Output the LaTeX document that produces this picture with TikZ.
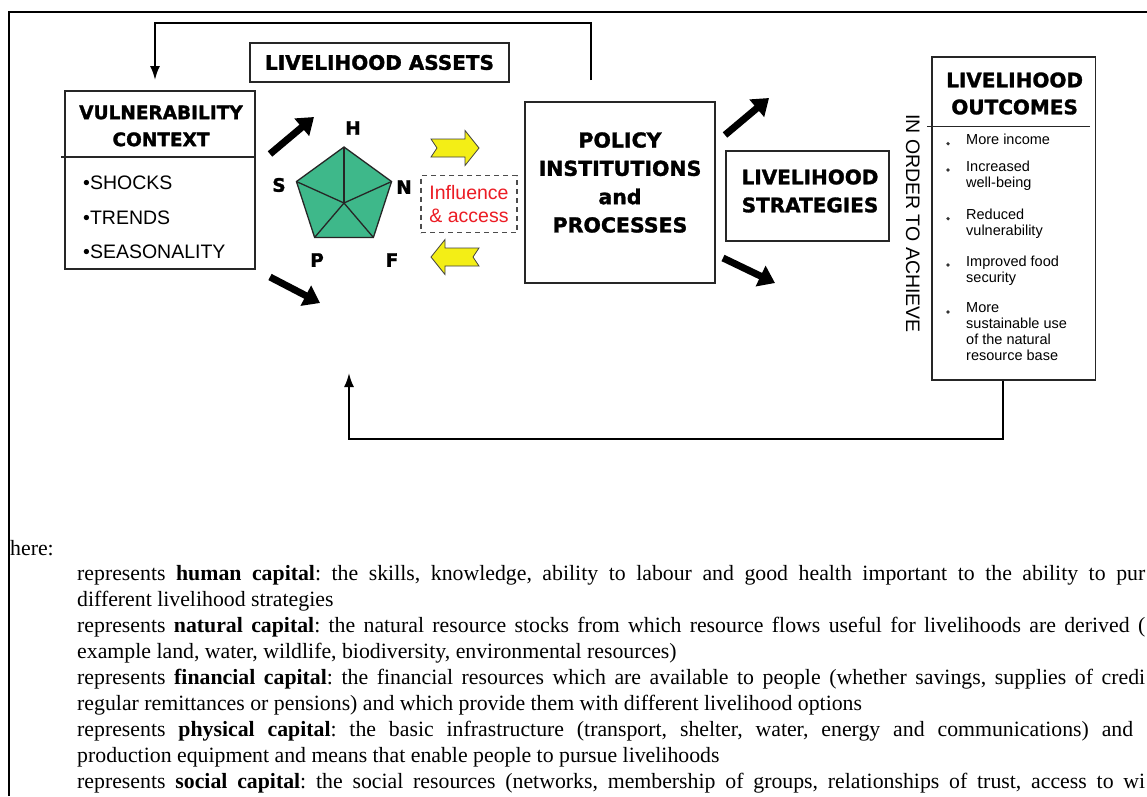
\documentclass[tikz,border=0pt]{standalone}
\usepackage{fontspec}
\setmainfont{Liberation Serif}
\newfontfamily\headfont{DejaVu Sans}[BoldFeatures={FakeBold=1.5}]
\newfontfamily\plainfont{Liberation Sans}
\usetikzlibrary{arrows.meta, shapes.geometric}
\frenchspacing

\definecolor{assetgreen}{RGB}{62,184,138}
\definecolor{flowyellow}{RGB}{243,238,22}
\definecolor{accessred}{RGB}{236,28,36}

\begin{document}
\begin{tikzpicture}[x=1pt, y=-1pt,
    box node/.style={draw=black!85, line width=1.5pt, inner sep=0pt},
    head node/.style={font=\headfont\bfseries\fontsize{20}{28}\selectfont, align=center, inner sep=0pt},
    plain node/.style={font=\plainfont\fontsize{19.5}{22.7}\selectfont, inner sep=0pt},
    small node/.style={font=\plainfont\fontsize{14.5}{16}\selectfont, align=left, inner sep=0pt, anchor=north west},
    letter node/.style={font=\headfont\bfseries\fontsize{18.5}{18.5}\selectfont, inner sep=0pt},
    text line/.style={font=\fontsize{21.8}{26}\selectfont, inner sep=0pt, anchor=base west},
    block arrow/.style={line width=7pt, -{Triangle[length=16pt, width=22pt]}},
    loop arrow/.style={line width=2pt, -{Latex[length=14pt, width=10pt]}},
    flow arrow/.pic={\draw[fill=flowyellow, draw=black!75, line width=0.8pt]
        (0,-9) -- (34,-9) -- (34,-17.5) -- (48,0) -- (34,17.5) -- (34,9) -- (0,9) -- (6,0) -- cycle;}]
\clip (0,0) rectangle (1147,796);
\fill[white] (0,0) rectangle (1147,796);

% page frame
\draw[line width=2pt] (9,796) -- (9,12) -- (1147,12);

% vulnerability context
\node[box node, minimum width=190pt, minimum height=178pt] (vuln) at (160,180) {};
\draw[box node] (61,157) -- (vuln.east |- 0,157);
\node[head node, font=\headfont\bfseries\fontsize{18.5}{27}\selectfont] (vuln title) at (161,126) {VULNERABILITY\\CONTEXT};
\node[plain node, align=left, anchor=west, font=\plainfont\fontsize{19.5}{34.5}\selectfont] (vuln list) at (83,217.5) {•SHOCKS\\•TRENDS\\•SEASONALITY};

% assets pentagon
\node[box node, head node] (assets) at (379.5,62.5) [minimum width=259pt, minimum height=39pt] {LIVELIHOOD ASSETS};
\node[regular polygon, regular polygon sides=5, minimum size=100pt, inner sep=0pt, outer sep=0pt,
      draw=black!85, line width=1.3pt, fill=assetgreen] (pent) at (344,197) {};
\coordinate (hub) at (344,203);
\foreach \c in {1,...,5}
    \draw[black!85, line width=1.3pt] (hub) -- (pent.corner \c);
\foreach \s/\x/\y in {H/353/128, S/279/185, N/404/187, P/317/260, F/392/260}
    \node[letter node] (letter \s) at (\x,\y) {\s};

\pic (flow in) at (431,148) {flow arrow};
\pic[rotate=180] (flow out) at (479,257) {flow arrow};
\node[plain node, draw=black!70, dash pattern=on 5pt off 4pt, line width=1.2pt, minimum width=96pt, minimum height=57pt,
      align=center, text=accessred] (influence) at (469,204) {Influence\\\& access};

% policy, strategies
\node[box node, minimum width=190pt, minimum height=181pt] (policy) at (620,192.5) {};
\node[head node, font=\headfont\bfseries\fontsize{20.5}{28.3}\selectfont] (policy title) at (620,182.5) {POLICY\\INSTITUTIONS\\and\\PROCESSES};
\node[box node, minimum width=163pt, minimum height=90pt] (strategies) at (807.5,196) {};
\node[head node] (strategies title) at (810,191) {LIVELIHOOD\\STRATEGIES};

\coordinate (vuln up a) at (270,154);   \coordinate (vuln up b) at (314,117);
\coordinate (vuln down a) at (270,277); \coordinate (vuln down b) at (320,303);
\coordinate (policy up a) at (725,135); \coordinate (policy up b) at (769,98);
\coordinate (policy down a) at (723,258); \coordinate (policy down b) at (775,283);
\draw[block arrow] (vuln up a) -- (vuln up b);
\draw[block arrow] (vuln down a) -- (vuln down b);
\draw[block arrow] (policy up a) -- (policy up b);
\draw[block arrow] (policy down a) -- (policy down b);

\node[plain node, rotate=-90] (achieve) at (912.7,223.4) {IN ORDER TO ACHIEVE};

% outcomes
\node[box node, minimum width=163.5pt, minimum height=323pt] (outcomes) at (1013.75,218.5) {};
\draw[box node] (927,126.7) -- (1090,126.7);
\node[head node, font=\headfont\bfseries\fontsize{20}{27}\selectfont] (outcomes title) at (1014.6,93.5) {LIVELIHOOD\\OUTCOMES};
\foreach \y/\t [count=\i] in {140.7/More income, 167/Increased\\well-being, 215.7/Reduced\\vulnerability,
        262/Improved food\\security, 309/More\\sustainable use\\of the natural\\resource base}{
    \node[small node] (item \i) at (966,\y-6.5) {\t};
    \fill[black!80] (948,\y+3) circle (1.8pt);
}

% feedback loops
\coordinate (fb top) at (591,80);
\coordinate (fb vuln) at (155,80);
\draw[loop arrow] (fb top) -- ++(0,-57) -| (fb vuln);
\coordinate (fb out) at (outcomes.south -| 1003,0);
\coordinate (fb back) at (349,373);
\draw[loop arrow] (fb out) -- ++(0,58) -| (fb back);

% key below the framework
\node[text line] (key) at (10,555) {here:};
\foreach \w/\t [count=\i from 0] in {
    1068/{represents \textbf{human capital}: the skills, knowledge, ability to labour and good health important to the ability to pur},
    1068/{represents \textbf{natural capital}: the natural resource stocks from which resource flows useful for livelihoods are derived (},
    1068/{represents \textbf{financial capital}: the financial resources which are available to people (whether savings, supplies of credi},
    1056/{represents \textbf{physical capital}: the basic infrastructure (transport, shelter, water, energy and communications) and},
    1068/{represents \textbf{social capital}: the social resources (networks, membership of groups, relationships of trust, access to wi}}
    \node[text line] (line \i) at (77,580+52*\i) {\makebox[\w pt][s]{\t}};
\foreach \t [count=\i from 0] in {
    {different livelihood strategies},
    {example land, water, wildlife, biodiversity, environmental resources)},
    {regular remittances or pensions) and which provide them with different livelihood options},
    {production equipment and means that enable people to pursue livelihoods}}
    \node[text line] (rest \i) at (77,606+52*\i) {\t};
\end{tikzpicture}
\end{document}
